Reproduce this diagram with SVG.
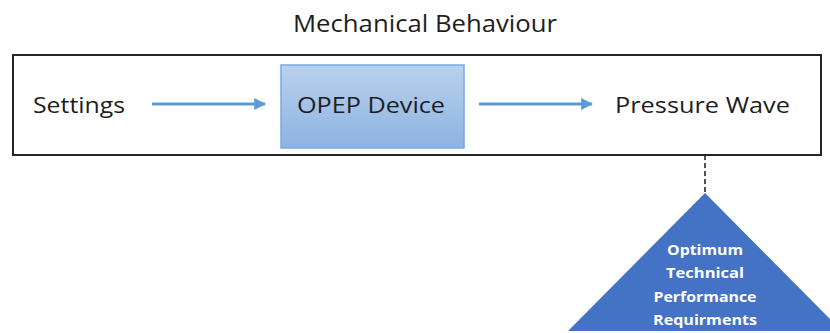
<svg xmlns="http://www.w3.org/2000/svg" width="830" height="333" viewBox="0 0 830 333">
  <defs>
    <linearGradient id="boxFill" x1="0" y1="0" x2="0" y2="1">
      <stop offset="0" stop-color="#b9d1ee"/>
      <stop offset="1" stop-color="#8cb3e1"/>
    </linearGradient>
    <marker id="arrowHead" viewBox="0 0 10 10" refX="9" refY="5" markerWidth="4" markerHeight="4" orient="auto" markerUnits="strokeWidth">
      <path d="M0,0 L10,5 L0,10 z" fill="#5b9bd5"/>
    </marker>
  </defs>
  <style>
    .label { font-family: "Open Sans", "Liberation Sans", sans-serif; fill: #1e1e1e; }
    .tri-label { font-family: "Open Sans", "Liberation Sans", sans-serif; font-weight: bold; fill: #ffffff; font-size: 15px; text-anchor: middle; }
    .flow { stroke: #5b9bd5; stroke-width: 3; fill: none; }
  </style>

  <rect width="830" height="333" fill="#ffffff"/>

  <g id="title">
    <text class="label" x="293" y="32" font-size="23" textLength="264" lengthAdjust="spacingAndGlyphs">Mechanical Behaviour</text>
  </g>

  <g id="frame">
    <rect x="13" y="55" width="808" height="100" fill="none" stroke="#262626" stroke-width="2"/>
  </g>

  <g id="settings">
    <text class="label" x="33" y="113" font-size="21" textLength="92" lengthAdjust="spacingAndGlyphs">Settings</text>
  </g>

  <g id="opep-device">
    <rect x="281" y="65" width="183" height="83" fill="url(#boxFill)" stroke="#7aaadf" stroke-width="1.5"/>
    <text class="label" x="297" y="113" font-size="21" textLength="148" lengthAdjust="spacingAndGlyphs">OPEP Device</text>
  </g>

  <g id="pressure-wave">
    <text class="label" x="615" y="113" font-size="21" textLength="175" lengthAdjust="spacingAndGlyphs">Pressure Wave</text>
  </g>

  <g id="requirements">
    <polygon points="705,193 568,331 842,331" fill="#4472c4"/>
    <text class="tri-label" x="705" y="255" textLength="76" lengthAdjust="spacingAndGlyphs">Optimum</text>
    <text class="tri-label" x="705" y="278" textLength="78" lengthAdjust="spacingAndGlyphs">Technical</text>
    <text class="tri-label" x="705" y="302" textLength="103" lengthAdjust="spacingAndGlyphs">Performance</text>
    <text class="tri-label" x="705" y="325" textLength="104" lengthAdjust="spacingAndGlyphs">Requirments</text>
  </g>

  <g id="connectors">
    <line class="flow" x1="152" y1="104" x2="265" y2="104" marker-end="url(#arrowHead)"/>
    <line class="flow" x1="479" y1="104" x2="592" y2="104" marker-end="url(#arrowHead)"/>
    <line x1="705" y1="155" x2="705" y2="193" stroke="#1a1a1a" stroke-width="1.5" stroke-dasharray="5,3"/>
  </g>
</svg>
